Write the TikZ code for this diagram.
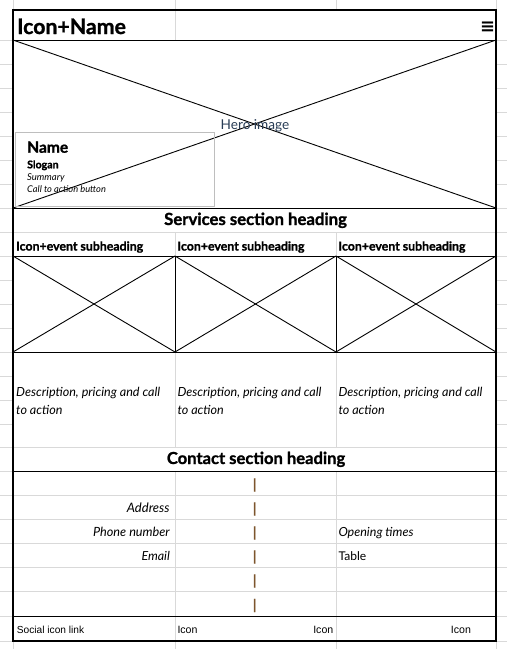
\documentclass[tikz,border=0pt]{standalone}
\usepackage{fontspec}
\setmainfont{Lato}[BoldFeatures={FakeBold=1.2}]
\newfontfamily\ftrfont{Liberation Sans}
\newfontfamily\symfont{DejaVu Sans}
\newlength\fitlen
\newcommand\fitsize[3]{\begingroup#1\fontsize{10}{12}\selectfont\settowidth\fitlen{#3}\pgfmathsetmacro\tmpsz{10*#2/\fitlen}\global\let\fitsz\tmpsz\endgroup}
\newcommand\fitw[3]{\fitsize{#1}{#2}{#3}#1\fontsize{\fitsz}{\fitsz}\selectfont #3}
\definecolor{gridgray}{RGB}{217,217,217}
\definecolor{boxgray}{RGB}{190,190,190}
\definecolor{herotxt}{RGB}{40,60,85}
\definecolor{barcol}{RGB}{125,85,45}
\tikzset{
  gline/.style={draw=gridgray, line width=0.8pt},
  bline/.style={draw=black, line width=0.9pt},
  frameline/.style={draw=black, line width=2pt},
  txt/.style={inner sep=0pt, anchor=base west},
  txte/.style={inner sep=0pt, anchor=base east},
  barmark/.style={inner sep=0pt, anchor=center, text=barcol, font=\bfseries\fontsize{14}{14}\selectfont},
}
\begin{document}
\begin{tikzpicture}[x=1pt,y=-1pt]
\useasboundingbox (0,0) rectangle (507,649);
\fill[white] (0,0) rectangle (507,649);
% ---- gridlines
\foreach \yy in {40,64,88,112,136,160,184,208,232,256,280,304,328,352,376,400,424,447,471,495,519,543,567,591.5,616,641}{
  \draw[gline] (0,\yy) -- (13,\yy);
  \draw[gline] (496,\yy) -- (507,\yy);
}
\draw[gline] (13,0) -- (13,10);
\draw[gline] (13,641) -- (13,649);
\draw[gline] (496,0) -- (496,10);
\draw[gline] (496,641) -- (496,649);
\draw[gline] (175,0) -- (175,40);
\draw[gline] (336,0) -- (336,10);
\foreach \xx in {175,336}{
  \draw[gline] (\xx,232) -- (\xx,256);
  \draw[gline] (\xx,352) -- (\xx,447);
  \draw[gline] (\xx,471) -- (\xx,649);
}
\foreach \yy in {232,447,495,519,543,567,591.5}{
  \draw[gline] (13,\yy) -- (496,\yy);
}
% ---- hero
\coordinate (h1) at (13,40);
\coordinate (h2) at (496,40);
\coordinate (h3) at (496,208);
\coordinate (h4) at (13,208);
\draw[bline] (h1) -- (h3);
\draw[bline] (h4) -- (h2);
\draw[draw=boxgray, line width=0.8pt] (15,132.5) rectangle (214.5,206.5);
% ---- services boxes
\foreach \xa/\xb in {13/175,175/336,336/496}{
  \draw[bline] (\xa,256) rectangle (\xb,352);
  \draw[bline] (\xa,256) -- (\xb,352);
  \draw[bline] (\xa,352) -- (\xb,256);
}
% ---- black separators
\draw[bline] (13,40) -- (496,40);
\draw[bline] (13,208) -- (496,208);
\draw[bline] (13,471) -- (496,471);
\draw[bline] (13,616) -- (496,616);
% ---- frame
\draw[frameline] (13,10) rectangle (496,641);
% ---- texts
\node[txt] (iconname) at (17,34) {\fitw{\bfseries}{108.7}{Icon+Name}};
\node[inner sep=0pt, anchor=center] (menu) at (487.7,27) {\fitw{\symfont\bfseries}{15}{≡}};
\node[txt, text=herotxt] (hero) at (220.5,129) {\fitw{}{68.6}{Hero image}};
\node[txt] (name) at (27,152.7) {\fitw{\bfseries}{41}{Name}};
\node[txt] (slogan) at (27,168.3) {\fitw{\bfseries}{31.4}{Slogan}};
\node[txt] (summary) at (27,180.5) {\fitw{\itshape}{37.4}{Summary}};
\node[txt] (cta) at (27,192.5) {\fitw{\itshape}{78.7}{Call to action button}};
\node[txt] (services) at (164,225) {\fitw{\bfseries}{182.7}{Services section heading}};
\node[txt] (sub1) at (16,250.5) {\fitw{\bfseries}{127}{Icon+event subheading}};
\node[txt] (sub2) at (177.3,250.5) {\fitw{\bfseries}{127}{Icon+event subheading}};
\node[txt] (sub3) at (338.3,250.5) {\fitw{\bfseries}{127}{Icon+event subheading}};
\node[txt] (d1a) at (16,396.5) {\fitw{\itshape}{144}{Description, pricing and call}};
\node[txt] (d2a) at (177.3,396.5) {\fitw{\itshape}{144}{Description, pricing and call}};
\node[txt] (d3a) at (338.3,396.5) {\fitw{\itshape}{144}{Description, pricing and call}};
\node[txt] (d1b) at (16,414) {\fitsize{\itshape}{144}{Description, pricing and call}\itshape\fontsize{\fitsz}{\fitsz}\selectfont to action};
\node[txt] (d2b) at (177.3,414) {\fitsize{\itshape}{144}{Description, pricing and call}\itshape\fontsize{\fitsz}{\fitsz}\selectfont to action};
\node[txt] (d3b) at (338.3,414) {\fitsize{\itshape}{144}{Description, pricing and call}\itshape\fontsize{\fitsz}{\fitsz}\selectfont to action};
\node[txt] (contact) at (166.7,464) {\fitw{\bfseries}{178.3}{Contact section heading}};
\node[txte] (address) at (169.8,512) {\fitw{\itshape}{42.7}{Address}};
\node[txte] (phone) at (170,536) {\fitw{\itshape}{76.7}{Phone number}};
\node[txte] (email) at (170,560) {\fitw{\itshape}{28.3}{Email}};
\node[txt] (opening) at (338.3,536) {\fitw{\itshape}{75}{Opening times}};
\node[txt] (table) at (338.3,560) {\fitw{}{27.7}{Table}};
\node[txt] (social) at (16.7,633) {\fitw{\ftrfont}{67.3}{Social icon link}};
\node[txt] (icon1) at (177.3,633) {\fitw{\ftrfont}{20}{Icon}};
\node[txte] (icon2) at (333.5,633) {\fitw{\ftrfont}{20}{Icon}};
\node[txt] (icon3) at (450.7,633) {\fitw{\ftrfont}{20}{Icon}};
% ---- bars
\foreach \yy [count=\i] in {471,495,519,543,567,591.5}{
  \node[barmark] (bar\i) at (254.7,\yy+14) {|};
}
\end{tikzpicture}
\end{document}
